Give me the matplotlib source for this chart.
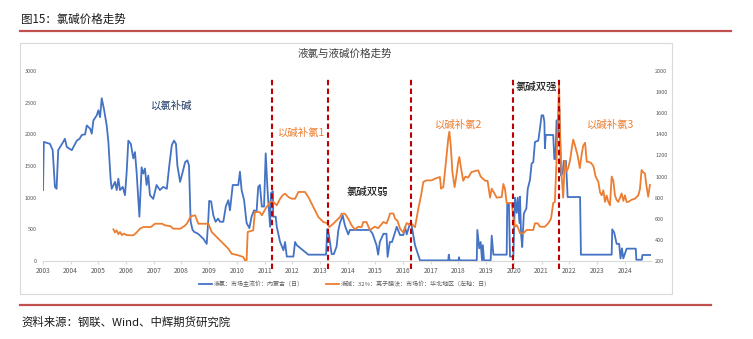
import matplotlib
matplotlib.use("Agg")
import matplotlib.pyplot as plt
from matplotlib.lines import Line2D
from matplotlib.patches import Rectangle

plt.rcParams['font.family'] = ['Noto Sans CJK SC', 'DejaVu Sans']

# 液氯：市场主流价：内蒙古（左轴）
blue_years = [2003.00, 2003.03, 2003.25, 2003.35, 2003.43, 2003.49, 2003.55, 2003.73, 2003.79, 2003.86,
              2004.04, 2004.22, 2004.32, 2004.40, 2004.52, 2004.58, 2004.70, 2004.76, 2004.82, 2004.94,
              2005.00, 2005.06, 2005.12, 2005.20, 2005.30, 2005.36, 2005.44, 2005.48, 2005.60, 2005.66,
              2005.72, 2005.78, 2005.88, 2005.96, 2006.02, 2006.08, 2006.17, 2006.26, 2006.32, 2006.38,
              2006.48, 2006.56, 2006.62, 2006.68, 2006.74, 2006.80, 2006.86, 2006.98, 2007.10, 2007.22,
              2007.34, 2007.47, 2007.56, 2007.65, 2007.73, 2007.80, 2007.85, 2007.95, 2008.04, 2008.13,
              2008.21, 2008.27, 2008.33, 2008.40, 2008.46, 2008.60, 2008.67, 2008.79, 2008.91, 2008.97,
              2009.00, 2009.07, 2009.15, 2009.23, 2009.32, 2009.39, 2009.51, 2009.60, 2009.69, 2009.75,
              2009.85, 2010.05, 2010.11, 2010.17, 2010.26, 2010.35, 2010.45, 2010.53, 2010.62, 2010.71,
              2010.77, 2010.83, 2010.90, 2010.98, 2011.04, 2011.10, 2011.13, 2011.20, 2011.23, 2011.30,
              2011.31, 2011.40, 2011.44, 2011.56, 2011.68, 2011.74, 2011.80, 2012.04, 2012.10, 2012.16,
              2012.58, 2013.22, 2013.26, 2013.32, 2013.42, 2013.50, 2013.60, 2013.66, 2013.72, 2013.82,
              2013.90, 2013.96, 2014.02, 2014.08, 2014.80, 2014.90, 2015.04, 2015.10, 2015.16, 2015.29,
              2015.40, 2015.44, 2015.52, 2015.60, 2015.77, 2015.89, 2016.01, 2016.07, 2016.13, 2016.25,
              2016.31, 2016.43, 2016.55, 2016.61, 2017.63, 2017.65, 2017.68, 2018.00, 2018.02, 2018.04,
              2018.66, 2018.68, 2018.75, 2018.80, 2018.85, 2018.88, 2018.92, 2019.16, 2019.20, 2019.26,
              2019.74, 2019.76, 2019.82, 2019.86, 2019.98, 2020.04, 2020.10, 2020.14, 2020.20, 2020.22,
              2020.26, 2020.30, 2020.36, 2020.45, 2020.50, 2020.58, 2020.64, 2020.70, 2020.76, 2020.88,
              2020.94, 2021.00, 2021.06, 2021.10, 2021.12, 2021.15, 2021.42, 2021.46, 2021.50, 2021.54,
              2021.60, 2021.64, 2021.70, 2021.76, 2021.80, 2021.88, 2021.94, 2022.39, 2022.42, 2023.17,
              2023.53, 2023.55, 2023.62, 2023.71, 2023.80, 2023.85, 2023.90, 2023.95, 2024.07, 2024.40,
              2024.42, 2024.62, 2024.64, 2024.95]
blue_vals = [1120, 1880, 1850, 1750, 1170, 1140, 1750, 1880, 1930, 1800,
             1750, 1900, 1930, 1990, 2000, 2140, 2090, 2010, 2220, 2300,
             2380, 2270, 2570, 2400, 2140, 1880, 1300, 1140, 1250, 1120,
             1300, 1120, 1170, 1040, 1400, 1900, 1850, 1620, 1720, 1400,
             700, 1480, 1380, 1460, 1200, 1350, 1040, 980, 1200, 1120,
             1170, 1140, 1510, 1830, 1900, 1850, 1510, 1250, 1400, 1560,
             1590, 1510, 620, 490, 460, 430, 400, 350, 270, 670,
             950, 940, 720, 620, 670, 620, 620, 860, 960, 800,
             1200, 1200, 1410, 1120, 960, 600, 520, 700, 800, 780,
             1170, 1200, 860, 860, 1700, 1170, 960, 540, 1070, 1100,
             700, 700, 540, 300, 170, 300, 70, 70, 300, 250,
             100, 100, 500, 420, 110, 110, 230, 480, 600, 720,
             560, 490, 420, 490, 490, 430, 250, 100, 300, 430,
             430, 65, 300, 300, 540, 410, 410, 540, 420, 590,
             560, 250, 90, 10, 10, 100, 10, 10, 60, 10,
             10, 490, 200, 300, 10, 250, 10, 10, 400, 100,
             100, 900, 900, 70, 70, 1000, 760, 1000, 600, 1015,
             420, 220, 750, 830, 1140, 1280, 1540, 1560, 1880, 1900,
             2090, 2300, 2300, 2200, 1780, 1990, 1990, 1610, 1610, 2220,
             2040, 2400, 1350, 1380, 1580, 1580, 1010, 1010, 100, 100,
             100, 500, 450, 270, 270, 40, 200, 40, 195, 195,
             20, 20, 95, 95]

# 液碱：32%：离子膜法：市场价：华北地区（右轴）
orange_years = [2005.54, 2005.60, 2005.66, 2005.72, 2005.78, 2005.85, 2005.92, 2006.02, 2006.26, 2006.38,
                2006.50, 2006.62, 2006.90, 2007.04, 2007.30, 2007.40, 2007.60, 2007.70, 2007.95, 2008.10,
                2008.19, 2008.27, 2008.33, 2008.49, 2008.61, 2008.97, 2009.09, 2009.21, 2009.45, 2009.69,
                2009.81, 2010.05, 2010.23, 2010.29, 2010.35, 2010.39, 2010.59, 2010.65, 2010.82, 2010.90,
                2011.07, 2011.13, 2011.19, 2011.31, 2011.44, 2011.56, 2011.65, 2011.74, 2011.86, 2011.98,
                2012.10, 2012.22, 2012.46, 2012.58, 2012.70, 2012.82, 2012.94, 2013.12, 2013.25, 2013.34,
                2013.48, 2013.60, 2013.72, 2013.78, 2013.90, 2014.02, 2014.14, 2014.26, 2014.38, 2014.50,
                2014.56, 2014.68, 2014.80, 2014.98, 2015.10, 2015.29, 2015.40, 2015.47, 2015.53, 2015.65,
                2015.71, 2015.80, 2015.89, 2016.01, 2016.13, 2016.25, 2016.31, 2016.43, 2016.55, 2016.65,
                2016.73, 2016.85, 2017.03, 2017.15, 2017.33, 2017.37, 2017.45, 2017.51, 2017.57, 2017.63,
                2017.67, 2017.72, 2017.78, 2017.86, 2017.92, 2017.99, 2018.03, 2018.08, 2018.17, 2018.25,
                2018.35, 2018.47, 2018.71, 2018.80, 2018.96, 2019.05, 2019.14, 2019.20, 2019.30, 2019.38,
                2019.56, 2019.62, 2019.68, 2019.74, 2019.92, 2019.98, 2020.04, 2020.10, 2020.16, 2020.22,
                2020.34, 2020.46, 2020.58, 2020.70, 2020.76, 2020.86, 2020.94, 2021.12, 2021.24, 2021.34,
                2021.42, 2021.48, 2021.54, 2021.60, 2021.63, 2021.66, 2021.72, 2021.78, 2021.84, 2021.90,
                2021.96, 2022.03, 2022.08, 2022.14, 2022.20, 2022.30, 2022.38, 2022.44, 2022.50, 2022.57,
                2022.63, 2022.69, 2022.78, 2022.87, 2022.95, 2023.05, 2023.11, 2023.17, 2023.23, 2023.29,
                2023.35, 2023.41, 2023.47, 2023.53, 2023.59, 2023.65, 2023.71, 2023.77, 2023.83, 2023.89,
                2023.95, 2024.01, 2024.07, 2024.13, 2024.25, 2024.37, 2024.49, 2024.55, 2024.61, 2024.67,
                2024.73, 2024.79, 2024.85, 2024.91]
orange_vals = [500, 470, 490, 455, 475, 445, 460, 445, 443, 470,
               506, 522, 522, 553, 553, 538, 530, 506, 506, 530,
               553, 590, 623, 633, 553, 553, 475, 443, 380, 317,
               269, 254, 238, 207, 207, 475, 491, 664, 664, 633,
               712, 728, 759, 759, 728, 790, 822, 838, 806, 790,
               790, 854, 854, 806, 743, 680, 617, 569, 560, 522,
               553, 585, 617, 648, 648, 601, 538, 500, 525, 520,
               569, 569, 494, 525, 510, 570, 555, 601, 650, 650,
               601, 580, 506, 470, 560, 540, 553, 520, 696, 822,
               949, 964, 964, 980, 996, 885, 900, 1043, 1201, 1359,
               1425, 1296, 1043, 900, 1000, 1138, 1185, 1100, 960, 1000,
               990, 1043, 1059, 1000, 960, 960, 800, 885, 840, 800,
               806, 930, 880, 750, 750, 620, 525, 540, 510, 462,
               462, 494, 494, 494, 557, 557, 525, 525, 557, 600,
               750, 760, 1157, 1631, 1860, 1480, 1020, 800, 1150, 1050,
               1080, 1157, 1250, 1350, 1300, 1200, 1080, 1200, 1290, 1320,
               1140, 1140, 1130, 1100, 1000, 950, 850, 822, 870, 760,
               820, 760, 728, 1000, 960, 820, 778, 760, 800, 840,
               770, 822, 759, 760, 780, 790, 822, 880, 1062, 1040,
               1030, 904, 809, 920]

year_ticks = list(range(2003, 2025))
left_ticks = [0, 500, 1000, 1500, 2000, 2500, 3000]
right_ticks = [200, 400, 600, 800, 1000, 1200, 1400, 1600, 1800, 2000]

split_years = [2011.26, 2013.30, 2016.29, 2019.98, 2021.64]
# (text, x, y on left axis, colour, alignment)
stage_labels = [("以氯补碱", 2007.66, 2460, "#1F3864", "center"),
                ("以碱补氯1", 2011.47, 2020, "#ED7D31", "left"),
                ("氯碱双弱", 2014.71, 1095, "#000000", "center"),
                ("以碱补氯2", 2017.15, 2150, "#ED7D31", "left"),
                ("氯碱双强", 2020.06, 2745, "#000000", "left"),
                ("以碱补氯3", 2022.63, 2150, "#ED7D31", "left")]

blue_label = "液氯：市场主流价：内蒙古（日）"
orange_label = "液碱：32%：离子膜法：市场价：华北地区（左轴：日）"

W, H = 753, 339
fig = plt.figure(figsize=(W / 100, H / 100), dpi=100)

# chart frame
fig.patches.append(Rectangle((20 / W, 1 - 294 / H), 652 / W, 251 / H, transform=fig.transFigure,
                             fill=False, edgecolor="#D9D9D9", linewidth=0.8))
# red rules
fig.lines.append(Line2D([20 / W, 731 / W], [1 - 31 / H] * 2, transform=fig.transFigure,
                        color="#C0504D", linewidth=1.6))
fig.lines.append(Line2D([20 / W, 711 / W], [1 - 305 / H] * 2, transform=fig.transFigure,
                        color="#C0504D", linewidth=1.6))

fig.text(21 / W, 1 - 19 / H, "图15：氯碱价格走势", fontsize=8.3, color="#1A1A1A", va="center", ha="left")
fig.text(21 / W, 1 - 322 / H, "资料来源：钢联、Wind、中辉期货研究院", fontsize=8.2, color="#1A1A1A",
         va="center", ha="left")
fig.text(345 / W, 1 - 54 / H, "液氯与液碱价格走势", fontsize=7.6, color="#404040", va="center", ha="center")

ax = fig.add_axes([43 / W, 1 - 261 / H, (651 - 43) / W, 190 / H])
ax2 = ax.twinx()

l1, = ax.plot(blue_years, blue_vals, color="#4472C4", linewidth=1.3)
l2, = ax2.plot(orange_years, orange_vals, color="#ED7D31", linewidth=1.3)

ax.set_xlim(2003.0, 2024.95)
ax.set_ylim(0, 3000)
ax2.set_ylim(200, 2000)
ax.set_xticks(year_ticks)
ax.set_xticklabels([str(y) for y in year_ticks])
ax.set_yticks(left_ticks)
ax2.set_yticks(right_ticks)

for s in ["top", "left", "right"]:
    ax.spines[s].set_visible(False)
for s in ax2.spines.values():
    s.set_visible(False)
ax.spines["bottom"].set_color("#D9D9D9")
ax.spines["bottom"].set_linewidth(0.8)
ax.tick_params(axis="x", length=2, color="#D9D9D9", labelsize=4.8, labelcolor="#595959", pad=2.5)
ax.tick_params(axis="y", length=0, labelsize=4, labelcolor="#595959", pad=4.3)
ax2.tick_params(axis="y", length=0, labelsize=4, labelcolor="#595959", pad=3)

for x in split_years:
    ax2.plot([x, x], [-0.04, 0.963], transform=ax2.get_xaxis_transform(), color="#C00000",
             linewidth=1.5, linestyle=(0, (2.6, 1.6)), clip_on=False, zorder=5)

for text, x, y, c, ha in stage_labels:
    ax.text(x, y, text, color=c, fontsize=7.5, ha=ha, va="center")

fig.legend([l1, l2], [blue_label, orange_label], loc="center", bbox_to_anchor=(345 / W, 1 - 284 / H),
           ncol=2, frameon=False, fontsize=4.3, handlelength=2.2, handletextpad=0.3, columnspacing=3.7,
           labelcolor="#595959")

fig.savefig("out.png", dpi=100)
